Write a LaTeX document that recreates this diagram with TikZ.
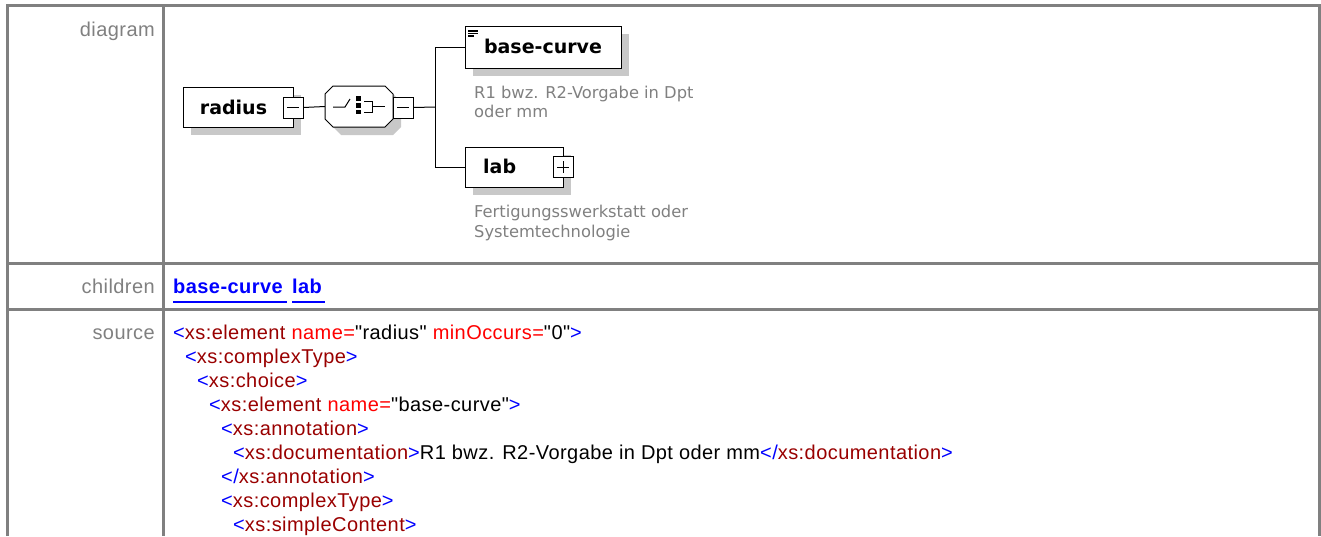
\documentclass[tikz,border=0pt]{standalone}
\usepackage{fontspec}
\setmainfont{Liberation Sans}[LetterSpace=2.2,Ligatures=TeXOff]
\newfontfamily\dv{DejaVu Sans}
\usetikzlibrary{shadows}
\definecolor{gridgray}{HTML}{808080}
\definecolor{docgray}{HTML}{808080}
\definecolor{shadowgray}{HTML}{C8C8C8}
\definecolor{xblue}{HTML}{0000FF}
\definecolor{xdark}{HTML}{990000}
\definecolor{xred}{HTML}{FF0000}
\newcommand\xLT{\textcolor{xblue}{<}}
\newcommand\xGT{\textcolor{xblue}{>}}
\newcommand\xLTS{\textcolor{xblue}{</}}
\newcommand\xTag[1]{\textcolor{xdark}{#1}}
\newcommand\xAtt[1]{\textcolor{xred}{#1}}
% octagon with left x, top y, right x, bottom y
\newcommand\xOct[4]{(#1+8,#2) -- (#3-8,#2) -- (#3,#2+8) -- (#3,#4-8) -- (#3-8,#4) -- (#1+8,#4) -- (#1,#4-8) -- (#1,#2+8) -- cycle}
\tikzset{
  grid/.style={draw=gridgray, line width=3pt},
  rowlabel/.style={anchor=base east, inner sep=0pt, text=gridgray, font=\fontsize{20}{24}\selectfont},
  src/.style={anchor=base west, inner sep=0pt, font=\fontsize{20}{24}\selectfont},
  link/.style={anchor=base west, inner sep=0pt, text=xblue, font=\fontsize{20}{24}\selectfont\bfseries},
  shd/.style={drop shadow={shadow xshift=8pt, shadow yshift=-8pt, fill=shadowgray, opacity=1}},
  elem/.style={draw=black, fill=white, line width=1pt, inner sep=0pt, shd},
  elemtext/.style={anchor=base, inner sep=0pt, font=\dv\fontsize{19}{20}\selectfont\bfseries},
  pmbox/.style={draw=black, fill=white, line width=1pt, inner sep=0pt, minimum width=20pt, minimum height=21pt},
  doc/.style={anchor=base west, inner sep=0pt, text=docgray, align=left, font=\dv\fontsize{16.3}{20}\selectfont},
  conn/.style={draw=black, line width=1pt},
  icon/.style={line width=1pt},
}
\begin{document}
\begin{tikzpicture}[x=1pt,y=-1pt]
\useasboundingbox (0,0) rectangle (1321,536);
% table grid
\draw[grid] (7,536) -- (7,5) -- (1319.5,5) -- (1319.5,536);
\draw[grid] (163.5,5) -- (163.5,536);
\draw[grid] (7,263) -- (1319.5,263);
\draw[grid] (7,309.5) -- (1319.5,309.5);
% row labels
\node[rowlabel] (ldiagram) at (155,36) {diagram};
\node[rowlabel] (lchildren) at (155,293) {children};
\node[rowlabel] (lsource) at (155,339) {source};
% diagram
\node[elem, minimum width=110pt, minimum height=40pt] (radius) at (238,107) {};
\node[elemtext] (radiust) at (233.5,114) {radius};
\node[pmbox] (m1) at (293,107.5) {};
\draw[icon] ([xshift=-6pt]m1.center) -- ([xshift=6pt]m1.center);
% choice compositor (octagon)
\fill[shadowgray] \xOct{333}{94}{401}{135};
\draw[line width=1pt, fill=white] \xOct{325}{86}{393}{127};
\node[inner sep=0pt, minimum width=68pt, minimum height=41pt] (choice) at (359,106.5) {};
% choice icon
\draw[icon] (333,107) -- (345,107) -- (350,99);
\fill (356,96) rectangle (361,100.5);
\fill (356,102.5) rectangle (361,107.5);
\fill (356,109.5) rectangle (361,114);
\draw[icon] (364,101.5) -- (372.5,101.5) -- (372.5,112) -- (364,112);
\draw[icon] (372.5,106.5) -- (385,106.5);
\node[pmbox] (m2) at (403,107.5) {};
\draw[icon] ([xshift=-6pt]m2.center) -- ([xshift=6pt]m2.center);
\coordinate (j) at (435,107);
\draw[conn] (m1.east) -- (choice.west);
\draw[conn] (m2.east) -- (j);
% base-curve
\node[elem, minimum width=156pt, minimum height=42pt] (bc) at (543,47) {};
\node[elemtext] (bct) at (543,53) {base-curve};
\draw[line width=1.2pt] (468,31) -- (478,31) (468,33.5) -- (478,33.5) (468,36) -- (474,36);
\node[doc] (bcdoc) at (474,98) {R1 bwz. R2-Vorgabe in Dpt};
\node[doc] (bcdoc2) at (474,117) {oder mm};
% lab
\node[elem, minimum width=98pt, minimum height=40pt] (lab) at (514,167) {};
\node[elemtext, anchor=base west] (labt) at (483,173) {lab};
\node[pmbox] (p1) at (563,167) {};
\draw[icon] ([xshift=-6pt]p1.center) -- ([xshift=6pt]p1.center)
  ([yshift=-6pt]p1.center) -- ([yshift=6pt]p1.center);
\node[doc] (labdoc) at (474,217) {Fertigungsswerkstatt oder};
\node[doc] (labdoc2) at (474,237) {Systemtechnologie};
\draw[conn] (bc.west) -| (j);
\draw[conn] (lab.west) -| (j);
% children
\node[link] (cbc) at (173,293) {base-curve};
\node[link] (clab) at (292,293) {lab};
\draw[xblue, line width=1.5pt] (173,302) -- (287,302);
\draw[xblue, line width=1.5pt] (292,302) -- (325,302);
% source
\node[src] (s1) at (173,339) {\xLT\xTag{xs:element} \xAtt{name=}"radius" \xAtt{minOccurs=}"0"\xGT};
\node[src] (s2) at (185,363) {\xLT\xTag{xs:complexType}\xGT};
\node[src] (s3) at (197,387) {\xLT\xTag{xs:choice}\xGT};
\node[src] (s4) at (209,411) {\xLT\xTag{xs:element} \xAtt{name=}"base-curve"\xGT};
\node[src] (s5) at (221,435) {\xLT\xTag{xs:annotation}\xGT};
\node[src] (s6) at (233,459) {\xLT\xTag{xs:documentation}\xGT{}R1 bwz. R2-Vorgabe in Dpt oder mm\xLTS\xTag{xs:documentation}\xGT};
\node[src] (s7) at (221,483) {\xLTS\xTag{xs:annotation}\xGT};
\node[src] (s8) at (221,507) {\xLT\xTag{xs:complexType}\xGT};
\node[src] (s9) at (233,531) {\xLT\xTag{xs:simpleContent}\xGT};
\end{tikzpicture}
\end{document}
